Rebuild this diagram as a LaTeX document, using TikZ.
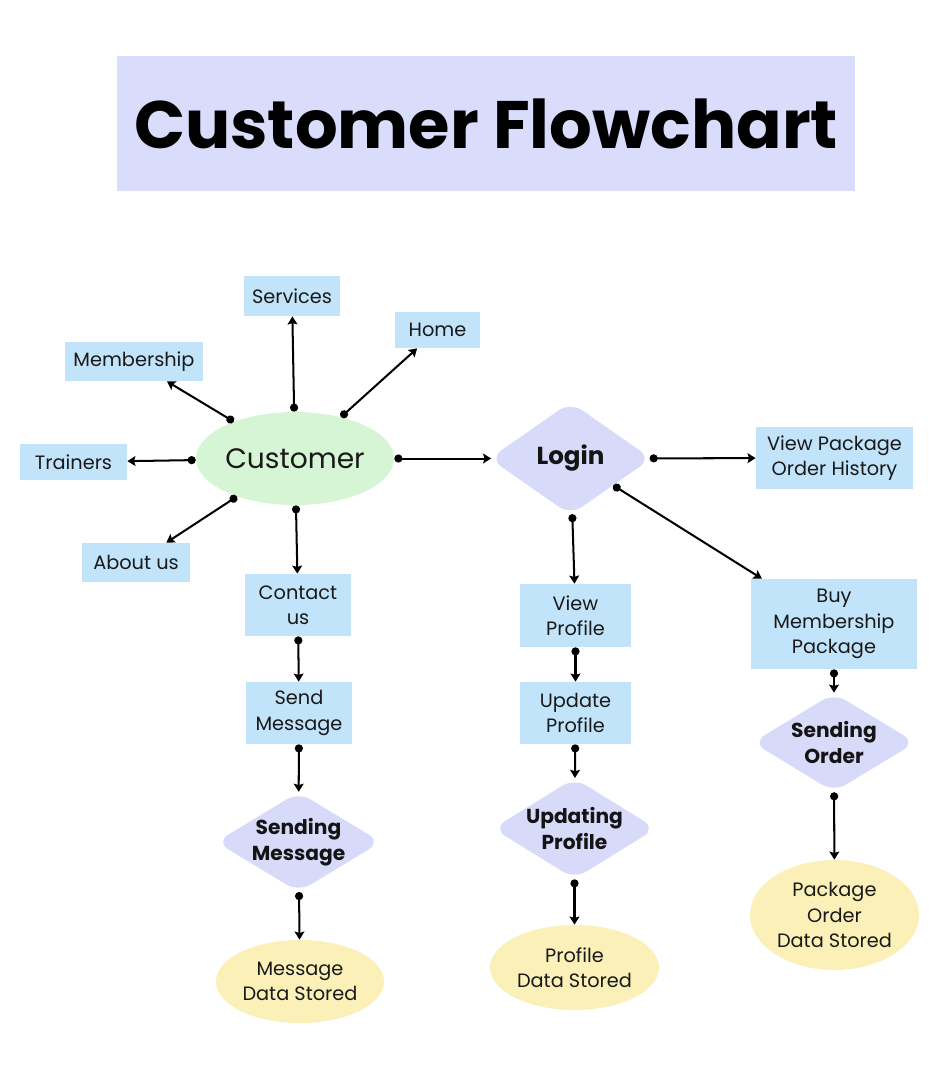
\documentclass[tikz,border=0pt]{standalone}
\usepackage{fontspec}
\setmainfont{Poppins}
\usetikzlibrary{shapes.geometric,arrows.meta}
\definecolor{boxblue}{HTML}{C2E4FA}
\definecolor{titlebg}{HTML}{D9DCFA}
\definecolor{custgreen}{HTML}{D6F5D4}
\definecolor{diamondc}{HTML}{D7DAF8}
\definecolor{storeyel}{HTML}{FBF0B8}
\def\px{0.02cm}
\begin{document}
\begin{tikzpicture}[x=0.02cm,y=-0.02cm,
  box/.style={rectangle, fill=boxblue, inner sep=0pt, align=center, font=\fontsize{11}{14.5}\selectfont, text=black!90},
  dia/.style={diamond, aspect=1.6, fill=diamondc, inner sep=-3pt, align=center, rounded corners=8pt, font=\fontsize{11.5}{15}\selectfont\bfseries, text=black!92},
  store/.style={ellipse, fill=storeyel, inner sep=0pt, align=center, font=\fontsize{11}{14.5}\selectfont, text=black!90},
  conn/.style={line width=1.15pt, {Circle[length=4.6pt]}-{Stealth[length=4.6pt,width=5.6pt,inset=0.8pt]}}
]
\useasboundingbox[fill=white] (0,0) rectangle (944,1080);

% title
\node[fill=titlebg, minimum width=738*\px, minimum height=135*\px, inner sep=0pt,
      font=\fontsize{38.2}{44}\selectfont\bfseries] (title) at (486,123.5) {Customer Flowchart};

% customer hub
\node[ellipse, fill=custgreen, inner sep=0pt, minimum width=198*\px, minimum height=93*\px,
      font=\fontsize{16}{20}\selectfont, text=black!90] (cust) at (295,458.5) {Customer};
\node[box, minimum width=96*\px, minimum height=40*\px] (serv) at (292,296) {Services};
\node[box, minimum width=85*\px, minimum height=36*\px] (home) at (437.5,330) {Home};
\node[box, minimum width=138*\px, minimum height=39*\px] (memb) at (134,361.5) {Membership};
\node[box, minimum width=107*\px, minimum height=36*\px] (train) at (73.5,462) {Trainers};
\node[box, minimum width=108*\px, minimum height=39*\px] (about) at (136,562.5) {About us};

% left column
\node[box, minimum width=106*\px, minimum height=62*\px] (contact) at (298,605) {Contact\\us};
\node[box, minimum width=106*\px, minimum height=62*\px] (send) at (299,713) {Send\\Message};
\node[dia, minimum width=165*\px, minimum height=100*\px] (sendmsg) at (298.5,842) {Sending\\Message};
\node[store, minimum width=168*\px, minimum height=83*\px] (msgds) at (300,981.5) {Message\\Data Stored};

% login
\node[dia, minimum width=162*\px, minimum height=113*\px, font=\fontsize{14}{17}\selectfont\bfseries] (login) at (570.5,458.5) {Login};
\node[box, minimum width=157*\px, minimum height=62*\px] (vpkg) at (834.5,458) {View Package\\Order History};

% middle column
\node[box, minimum width=111*\px, minimum height=63*\px] (vprof) at (575.5,615.5) {View\\Profile};
\node[box, minimum width=111*\px, minimum height=62*\px] (uprof) at (575.5,713) {Update\\Profile};
\node[dia, minimum width=163*\px, minimum height=101*\px] (updating) at (574.5,828.5) {Updating\\Profile};
\node[store, minimum width=169*\px, minimum height=85*\px] (profds) at (574.5,967.5) {Profile\\Data Stored};

% right column
\node[box, minimum width=166*\px, minimum height=90*\px] (buy) at (834,624) {Buy\\Membership\\Package};
\node[dia, minimum width=163*\px, minimum height=99*\px] (sendord) at (834,742.5) {Sending\\Order};
\node[store, minimum width=169*\px, minimum height=110*\px] (pkgds) at (834.5,915) {Package\\Order\\Data Stored};

% connectors
\draw[conn] (cust) -- (serv);
\draw[conn] (cust) -- (home);
\draw[conn] (cust) -- (memb);
\draw[conn] (cust) -- (train);
\draw[conn] (cust) -- (about);
\draw[conn] (cust) -- (contact);
\draw[conn, shorten >=-2*\px] (cust) -- (login);
\draw[conn, shorten <=-2*\px] (login) -- (vpkg);
\draw[conn] (login) -- (buy);
\draw[conn] (login) -- (vprof);
\draw[conn] (vprof) -- (uprof);
\draw[conn] (uprof) -- (updating);
\draw[conn] (updating) -- (profds);
\draw[conn] (contact) -- (send);
\draw[conn] (send) -- (sendmsg);
\draw[conn] (sendmsg) -- (msgds);
\draw[conn] (buy) -- (sendord);
\draw[conn] (sendord) -- (pkgds);
\end{tikzpicture}
\end{document}
